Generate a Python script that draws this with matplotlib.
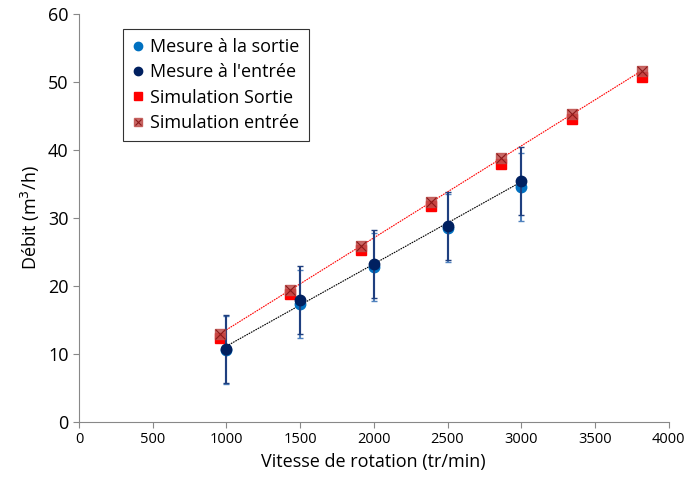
import numpy as np
import matplotlib
matplotlib.use("Agg")
import matplotlib.pyplot as plt
from matplotlib.lines import Line2D

# measurements
vit_mes = [1000, 1500, 2000, 2500, 3000]
debit_sortie = [10.6, 17.3, 22.8, 28.5, 34.5]
debit_entree = [10.7, 18.0, 23.2, 28.8, 35.5]
err_mes = [5.0, 5.0, 5.0, 5.0, 5.0]

# simulations
vit_sim = [955, 1433, 1910, 2388, 2865, 3343, 3820]
sim_sortie = [12.3, 18.8, 25.3, 31.8, 38.0, 44.5, 50.8]
sim_entree = [12.9, 19.4, 25.9, 32.4, 38.8, 45.3, 51.6]

plt.rcParams['font.family'] = ['Open Sans', 'DejaVu Sans']
plt.rcParams['font.size'] = 11

fig = plt.figure(figsize=(6.84, 4.84), dpi=100)
ax = fig.add_axes([0.1155, 0.128, 0.862, 0.843])

# trend lines
p = np.polyfit(vit_sim, sim_entree, 1)
xs = np.array([vit_sim[0], vit_sim[-1]])
ax.plot(xs, np.polyval(p, xs), color='red', lw=0.8, ls=(0, (1.5, 0.8)), zorder=2)
q = np.polyfit(vit_mes, debit_entree, 1)
xm = np.array([vit_mes[0], vit_mes[-1]])
ax.plot(xm, np.polyval(q, xm), color='black', lw=0.8, ls=(0, (1.5, 0.8)), zorder=2)

ax.errorbar(vit_mes, debit_sortie, yerr=err_mes, fmt='o', color='#0070C0',
            ecolor='#4F81BD', elinewidth=1.5, capsize=2, ms=7.5, zorder=3)
ax.errorbar(vit_mes, debit_entree, yerr=err_mes, fmt='o', color='#002060',
            ecolor='#1F3F7F', elinewidth=1.5, capsize=2, ms=7.5, zorder=4)

ax.plot(vit_sim, sim_sortie, 's', color='#FF0000', ms=7.5, zorder=3)
ax.plot(vit_sim, sim_entree, 's', color='#C0504D', alpha=0.85, ms=7.5, zorder=4)
ax.plot(vit_sim, sim_entree, 'x', color='#8B1A1A', ms=6.5, mew=0.8, zorder=5)

ax.set_xlim(0, 4000)
ax.set_ylim(0, 60)
ax.set_xticks(range(0, 4001, 500))
ax.set_yticks(range(0, 61, 10))
ax.tick_params(axis='both', direction='out', length=4, color='#888888')
ax.tick_params(axis='x', labelsize=10.5)
ax.tick_params(axis='y', labelsize=13)
for s in ['top', 'right']:
    ax.spines[s].set_visible(False)
for s in ['left', 'bottom']:
    ax.spines[s].set_color('#888888')
ax.set_xlabel('Vitesse de rotation (tr/min)', fontsize=13)
ax.set_ylabel('Débit (m$^3$/h)', fontsize=13)

handles = [
    Line2D([], [], ls='none', marker='o', color='#0070C0', ms=6),
    Line2D([], [], ls='none', marker='o', color='#002060', ms=6),
    Line2D([], [], ls='none', marker='s', color='#FF0000', ms=6),
    (Line2D([], [], ls='none', marker='s', color='#C0504D', alpha=0.85, ms=6),
     Line2D([], [], ls='none', marker='x', color='#8B1A1A', ms=5, mew=0.8)),
]
labels = ['Mesure à la sortie', "Mesure à l'entrée", 'Simulation Sortie',
          'Simulation entrée']
leg = ax.legend(handles, labels, loc='upper left',
                bbox_to_anchor=(0.06, 0.985), fontsize=13, frameon=True,
                fancybox=False, edgecolor='black', handlelength=0.6,
                handletextpad=0.4, borderpad=0.5, labelspacing=0.4)
leg.get_frame().set_linewidth(0.8)

fig.savefig('out.png', dpi=100)
